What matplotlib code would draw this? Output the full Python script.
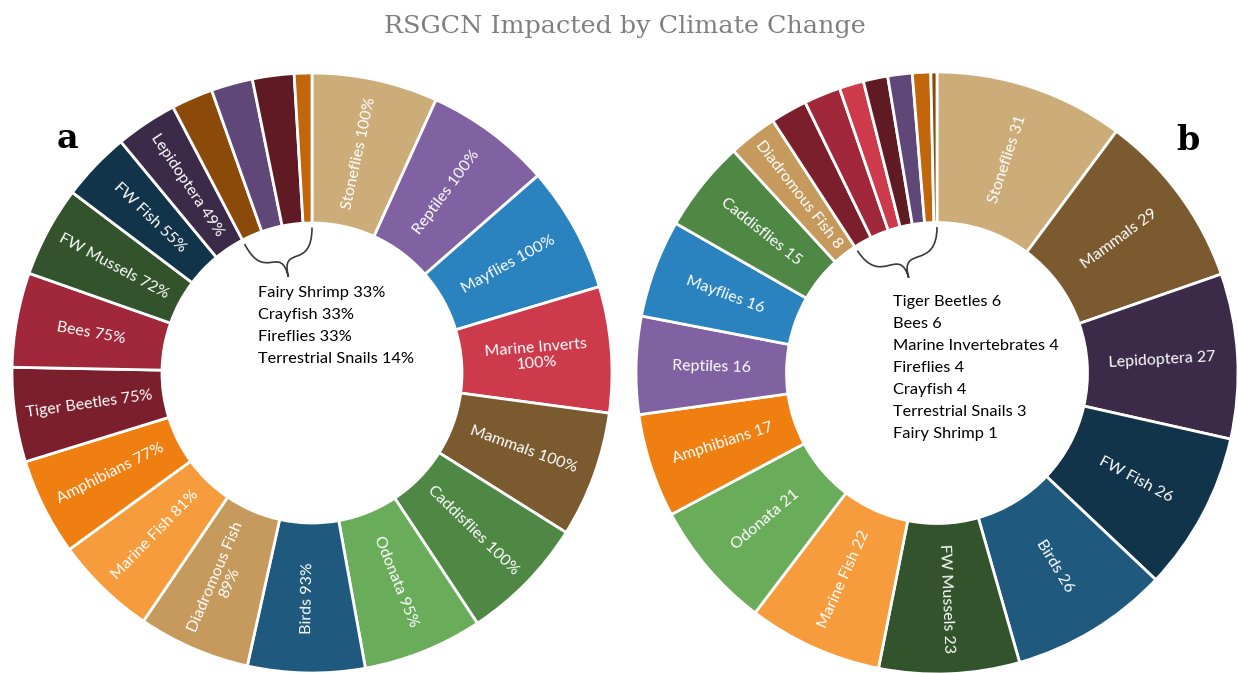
import numpy as np
import matplotlib
matplotlib.use("Agg")
import matplotlib.pyplot as plt
from matplotlib.path import Path
from matplotlib.patches import PathPatch

# ---- data -------------------------------------------------------------
categories_a = ["Stoneflies", "Reptiles", "Mayflies", "Marine Inverts", "Mammals",
                "Caddisflies", "Odonata", "Birds", "Diadromous Fish", "Marine Fish",
                "Amphibians", "Tiger Beetles", "Bees", "FW Mussels", "FW Fish",
                "Lepidoptera", "Fairy Shrimp", "Crayfish", "Fireflies",
                "Terrestrial Snails"]
pct_a = [100, 100, 100, 100, 100, 100, 95, 93, 89, 81, 77, 75, 75, 72, 55, 49,
         33, 33, 33, 14]

categories_b = ["Stoneflies", "Mammals", "Lepidoptera", "FW Fish", "Birds",
                "FW Mussels", "Marine Fish", "Odonata", "Amphibians", "Reptiles",
                "Mayflies", "Caddisflies", "Diadromous Fish", "Tiger Beetles", "Bees",
                "Marine Invertebrates", "Fireflies", "Crayfish", "Terrestrial Snails",
                "Fairy Shrimp"]
count_b = [31, 29, 27, 26, 26, 23, 22, 21, 17, 16, 16, 15, 8, 6, 6, 4, 4, 4, 3, 1]

# number of leading slices labelled inside the ring; the rest go in the centre list
ring_labelled_a = 16
ring_labelled_b = 13

colors = {
    "Stoneflies": "#CCAC78",
    "Reptiles": "#8062A3",
    "Mayflies": "#2A83BE",
    "Marine Inverts": "#CC3A4B",
    "Marine Invertebrates": "#CC3A4B",
    "Mammals": "#7A5A2E",
    "Caddisflies": "#4E8844",
    "Odonata": "#69AD5A",
    "Birds": "#1F5A7E",
    "Diadromous Fish": "#C59A5C",
    "Marine Fish": "#F69C3C",
    "Amphibians": "#EF7F11",
    "Tiger Beetles": "#7A1F2B",
    "Bees": "#A0283A",
    "FW Mussels": "#32532C",
    "FW Fish": "#11344A",
    "Lepidoptera": "#3B2A48",
    "Fairy Shrimp": "#8C4A0A",
    "Crayfish": "#5F4878",
    "Fireflies": "#5F1A23",
    "Terrestrial Snails": "#C1660A",
}

W, H = 1238, 673
fig = plt.figure(figsize=(W / 100, H / 100), dpi=100)
fig.patch.set_facecolor("white")

LABEL_FONT = "Lato"


def donut(cx, cy, R, names, values, n_ring, fmt, wrapped, list_xy):
    ax = fig.add_axes([(cx - R) / W, (H - cy - R) / H, 2 * R / W, 2 * R / H])
    wedges, _ = ax.pie(values, colors=[colors[n] for n in names], startangle=90,
                       counterclock=False, radius=1,
                       wedgeprops=dict(width=0.5, edgecolor="white", linewidth=2))
    ax.set_xlim(-1, 1)
    ax.set_ylim(-1, 1)
    ax.set_aspect("equal")
    ax.axis("off")

    # radial labels inside the ring
    for w, name, v in list(zip(wedges, names, values))[:n_ring]:
        mid = 0.5 * (w.theta1 + w.theta2)
        rad = np.deg2rad(mid)
        rot = (mid + 180) % 360 - 180
        if rot > 90:
            rot -= 180
        elif rot < -90:
            rot += 180
        sep = "\n" if name in wrapped else " "
        ax.text(0.75 * np.cos(rad), 0.75 * np.sin(rad), f"{name}{sep}{fmt(v)}",
                rotation=rot, rotation_mode="anchor", ha="center", va="center",
                color="white", fontsize=11.5, family=LABEL_FONT, linespacing=1.15)

    # curly brace gathering the small slices
    small = wedges[n_ring:]
    a_start = min(w.theta1 for w in small)
    a_end = max(w.theta2 for w in small)
    a_mid = 0.5 * (a_start + a_end)
    r_end, r_tip = 0.485, 0.33

    def pt(a, r):
        t = np.deg2rad(a)
        return np.array([r * np.cos(t), r * np.sin(t)])

    L, Rt, T = pt(a_end, r_end), pt(a_start, r_end), pt(a_mid, r_tip)
    depth = r_end - r_tip
    inL = -L / np.linalg.norm(L)
    inR = -Rt / np.linalg.norm(Rt)
    inT = -T / np.linalg.norm(T)
    verts = [L, L + inL * depth * 0.95, T - inT * depth * 0.75, T,
             T - inT * depth * 0.75, Rt + inR * depth * 0.95, Rt]
    codes = [Path.MOVETO, Path.CURVE4, Path.CURVE4, Path.CURVE4,
             Path.CURVE4, Path.CURVE4, Path.CURVE4]
    ax.add_patch(PathPatch(Path(verts, codes), fill=False, edgecolor="#3A3A3A",
                           linewidth=1.2))

    # list of the small slices in the hole
    step = 22 / R
    for i, (name, v) in enumerate(list(zip(names, values))[n_ring:]):
        ax.text(list_xy[0], list_xy[1] - i * step, f"{name} {fmt(v)}",
                ha="left", va="center", color="black", fontsize=11.8,
                family=LABEL_FONT)
    return ax


donut(312, 373, 300, categories_a, pct_a, ring_labelled_a,
      lambda v: f"{v}%", {"Marine Inverts", "Diadromous Fish"},
      ((258 - 312) / 300, (373 - 293) / 300))
donut(937, 373, 301, categories_b, count_b, ring_labelled_b,
      lambda v: f"{v}", set(),
      ((893 - 937) / 301, (373 - 302) / 301))

fig.text(625 / W, 1 - 27 / H, "RSGCN Impacted by Climate Change", ha="center",
         va="center", color="#7F7F7F", fontsize=18.3, family="DejaVu Serif")
fig.text(67 / W, 1 - 138 / H, "a", ha="center", va="center", color="black",
         fontsize=24, family="DejaVu Serif", weight="bold")
fig.text(1188 / W, 1 - 140 / H, "b", ha="center", va="center", color="black",
         fontsize=24, family="DejaVu Serif", weight="bold")

fig.savefig("out.png", dpi=100, facecolor="white")
